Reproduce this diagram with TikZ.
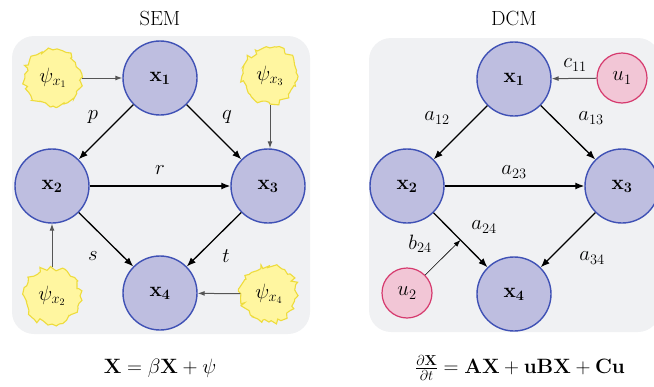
\documentclass[tikz,border=0pt]{standalone}
\usetikzlibrary{arrows.meta,decorations.pathmorphing}
\definecolor{bgpanel}{HTML}{F0F1F3}
\definecolor{nodefill}{HTML}{BEBEE0}
\definecolor{nodeline}{HTML}{3F51B5}
\definecolor{cloudfill}{HTML}{FFF6A0}
\definecolor{cloudline}{HTML}{EEDC3C}
\definecolor{ufill}{HTML}{F2C6D6}
\definecolor{uline}{HTML}{D63A6E}
\definecolor{inarrow}{HTML}{555555}
\tikzset{
  every node/.style={font=\fontsize{20.5}{24}\selectfont},
  var/.style={circle, draw=nodeline, fill=nodefill, line width=1.4pt, minimum size=74pt, inner sep=0pt},
  noise/.style={circle, draw=cloudline, fill=cloudfill, line width=1.1pt, minimum size=56pt, inner sep=0pt,
    decorate, decoration={random steps, segment length=3.5pt, amplitude=2.8pt}},
  inp/.style={circle, draw=uline, fill=ufill, line width=1.2pt, minimum size=50pt, inner sep=0pt},
  panel/.style={fill=bgpanel, rounded corners=22pt},
  edgearrow/.style={line width=1.3pt, -{Latex[length=9pt,width=7pt]}},
  feed/.style={line width=1pt, draw=inarrow, -{Latex[length=7pt,width=5pt]}},
  modarrow/.style={line width=0.6pt, -{Latex[length=7pt,width=5pt]}},
  lbl/.style={inner sep=0pt}
}
\begin{document}
\pgfmathsetseed{23}
\begin{tikzpicture}[x=1pt,y=-1pt]
\useasboundingbox (0,0) rectangle (654,386);
\clip (0,0) rectangle (654,386);
% ---------------- SEM ----------------
\node (semtitle) at (160,18) {SEM};
\fill[panel] (12,36) rectangle (310,334);
\node[var] (s1) at (160,78) {$\mathbf{x_1}$};
\node[var] (s2) at (52,186) {$\mathbf{x_2}$};
\node[var] (s3) at (268,186) {$\mathbf{x_3}$};
\node[var] (s4) at (160,293) {$\mathbf{x_4}$};
\node[noise] (n1) at (53,78) {$\psi_{x_1}$};
\node[noise] (n3) at (270,76) {$\psi_{x_3}$};
\node[noise] (n2) at (52,296) {$\psi_{x_2}$};
\node[noise] (n4) at (269,294) {$\psi_{x_4}$};
\draw[edgearrow] (s1) -- (s2);
\draw[edgearrow] (s1) -- (s3);
\draw[edgearrow] (s2) -- (s3);
\draw[edgearrow] (s2) -- (s4);
\draw[edgearrow] (s3) -- (s4);
\draw[feed] (n1) -- (s1);
\draw[feed] (n3.south) -- (s3.north -| n3.south);
\draw[feed] (n2) -- (s2);
\draw[feed] (n4) -- (s4);
\node[lbl] (lp) at (93,117) {$p$};
\node[lbl] (lq) at (227,117) {$q$};
\node[lbl] (lr) at (160,170) {$r$};
\node[lbl] (ls) at (93,256) {$s$};
\node[lbl] (lt) at (226,256) {$t$};
\node (semeq) at (160,368) {$\mathbf{X} = \beta\mathbf{X} + \psi$};
% ---------------- DCM ----------------
\node (dcmtitle) at (514,18) {DCM};
\fill[panel] (369,38) rectangle (660,332);
\node[var] (d1) at (514,79) {$\mathbf{x_1}$};
\node[var] (d2) at (407,186) {$\mathbf{x_2}$};
\node[var] (d3) at (622,186) {$\mathbf{x_3}$};
\node[var] (d4) at (514,294) {$\mathbf{x_4}$};
\node[inp] (u1) at (622,78) {$u_1$};
\node[inp] (u2) at (407,293) {$u_2$};
\draw[edgearrow] (d1) -- (d2);
\draw[edgearrow] (d1) -- (d3);
\draw[edgearrow] (d2) -- (d3);
\draw[edgearrow] (d2) -- coordinate[pos=0.5] (mid) (d4);
\draw[edgearrow] (d3) -- (d4);
\draw[feed] (u1) -- (d1);
\draw[modarrow] (u2) -- (mid);
\node[lbl] (lc11) at (575,65) {$c_{11}$};
\node[lbl] (la12) at (437,118) {$a_{12}$};
\node[lbl] (la13) at (591,118) {$a_{13}$};
\node[lbl] (la23) at (514,172) {$a_{23}$};
\node[lbl] (la24) at (484,227) {$a_{24}$};
\node[lbl] (lb24) at (420,244) {$b_{24}$};
\node[lbl] (la34) at (592,258) {$a_{34}$};
\node (dcmeq) at (520,368) {$\frac{\partial\mathbf{X}}{\partial t} = \mathbf{AX} + \mathbf{uBX} + \mathbf{Cu}$};
\end{tikzpicture}
\end{document}
